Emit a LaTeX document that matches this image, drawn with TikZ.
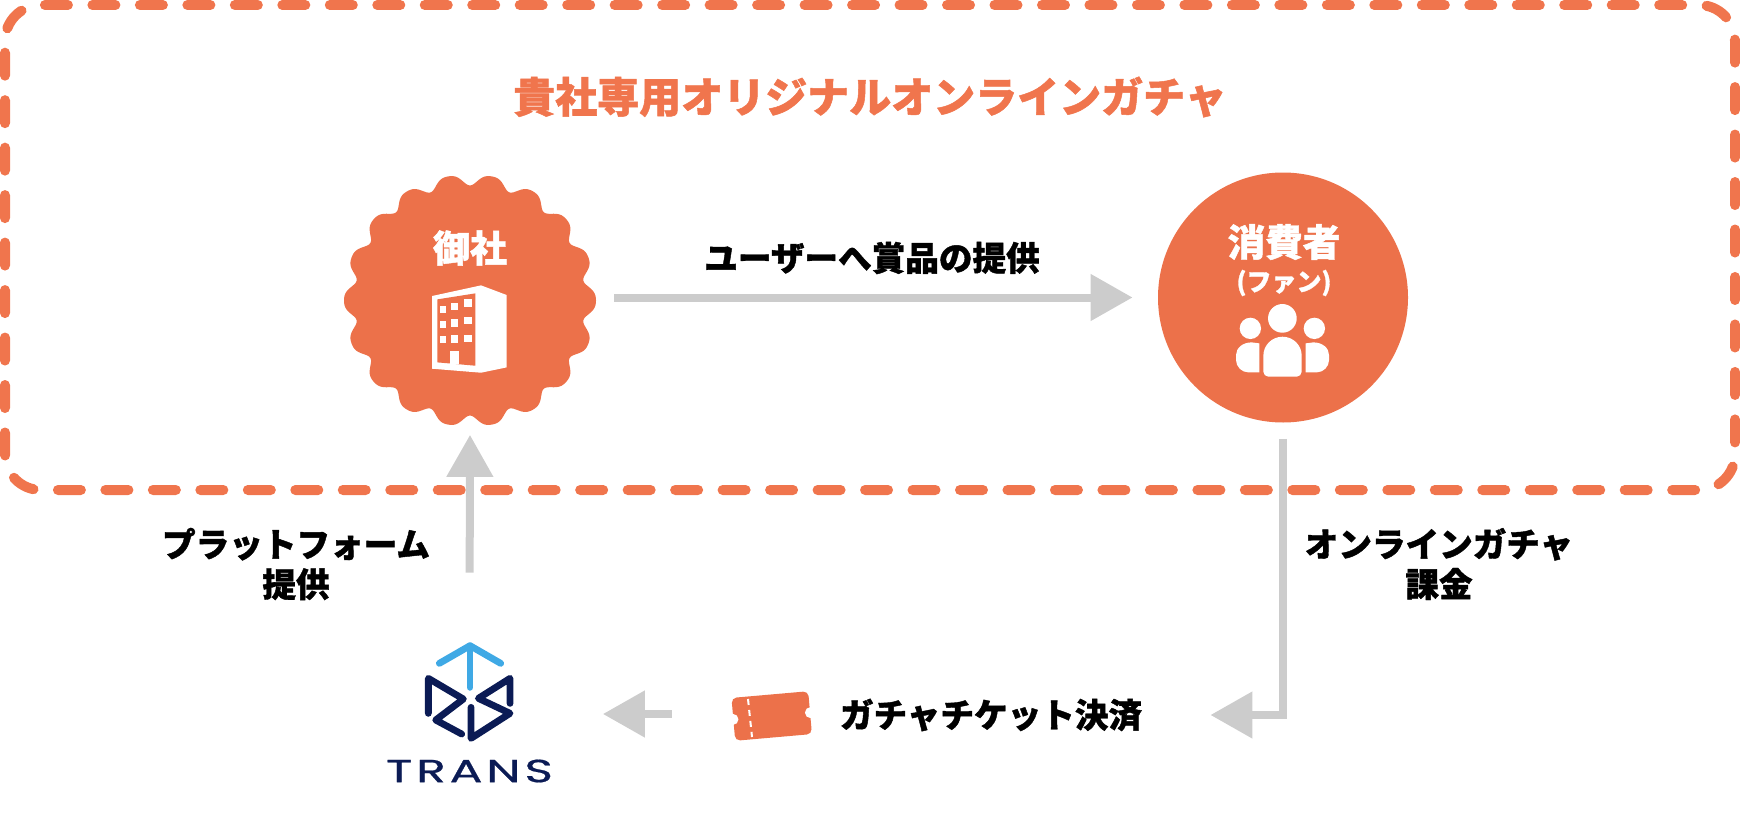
\documentclass[tikz,border=0pt]{standalone}
\usepackage{fontspec}
\usepackage{tikz}
\usetikzlibrary{arrows.meta}
\newfontfamily\cjk{Noto Sans CJK JP}[FakeBold=1.2]
\newfontfamily\transfont{Poppins}[LetterSpace=8,FakeBold=.6]
\definecolor{brand}{HTML}{F0754D}
\definecolor{badge}{HTML}{EC714A}
\definecolor{pale}{HTML}{CCCCCC}
\definecolor{navy}{HTML}{0B1B55}
\definecolor{sky}{HTML}{3FA9E5}
\tikzset{
    garrow/.style={draw=pale,line width=4pt,-{Triangle[length=21pt,width=22.5pt,fill=pale]}},
    lbl/.style={inner sep=0pt,align=center,font=\cjk\bfseries\fontsize{16.8}{20}\selectfont},
    inlbl/.style={inner sep=0pt,align=center,text=white},
    declare function={wav(\t)=121.5+5.5*cos(18*\t)-cos(36*\t);}
}
\begin{document}
\begin{tikzpicture}[x=.5pt,y=-.5pt]%
        \useasboundingbox (0,0) rectangle (1740,840); %%
        % dashed frame
        \draw[brand,line width=5pt,line cap=round,dash pattern=on 11.5pt off 12.239pt,dash phase=17.24pt] (5,41) .. controls (5,21.1) and (21.1,5) .. (41,5) -- (1699,5) .. controls (1718.9,5) and (1735,21.1) .. (1735,41) -- (1735,454) .. controls (1735,473.9) and (1718.9,490) .. (1699,490) -- (41,490) .. controls (21.1,490) and (5,473.9) .. (5,454) -- cycle; %%
        \node[inner sep=0pt,text=brand,font=\cjk\bfseries\fontsize{21}{25}\selectfont] (ttl) at (870,97) {貴社専用オリジナルオンラインガチャ}; %%
        % wavy badge and plain disc
        \fill[badge,smooth,samples=361,domain=0:360,variable=\t] plot ({470+wav(\t)*cos(\t)},{300.5+wav(\t)*sin(\t)}) -- cycle; %%
        \node[circle,inner sep=0pt,minimum size=126pt] (co) at (470,300.5) {}; %%
        \node[circle,inner sep=0pt,fill=badge,minimum size=125pt] (fan) at (1283,297.5) {}; %%
        \node[inlbl,font=\cjk\bfseries\fontsize{18.5}{20}\selectfont] (cotxt) at (470,248) {御社}; %%
        \node[inlbl,font=\cjk\bfseries\fontsize{18.8}{20}\selectfont] (fantxt) at (1284,242) {消費者}; %%
        \node[inlbl,font=\cjk\bfseries\fontsize{12.5}{14}\selectfont] (fansub) at (1284,283) {(ファン)}; %%
        % building icon
        \begin{scope}[shift={(320,160)},x=.1667pt,y=-.1667pt]
            \fill[white] (336,408)--(483,376)--(560,405)--(560,622)--(483,638)--(336,626)--cycle; %%
            \fill[badge] (352,418)--(466,400)--(466,617)--(352,607)--cycle; %%
            \foreach \cx/\w in {361/16,394/20,433/23}{%
                \foreach \ry/\sl in {0/.28,45/.17,90/.05}{%
                    \fill[white] (\cx,{\ry+437-(\cx-361)*\sl}) rectangle ++(\w,23); %%
                }%
            }%
            \fill[white] (390,572) rectangle (418,612); %%
        \end{scope}
        % people icon
        \begin{scope}[shift={(1140,160)},x=.1667pt,y=-.1667pt]
            \fill[white] (427,475) circle[radius=43]; %%
            \fill[white] (331,505) circle[radius=32]; %%
            \fill[white] (523,505) circle[radius=32]; %%
            \fill[white] (370,587) .. controls (370,555) and (396,530) .. (427.5,530) .. controls (459,530) and (485,555) .. (485,587) -- (485,635) .. controls (485,643) and (478,650) .. (470,650) -- (385,650) .. controls (377,650) and (370,643) .. (370,635) -- cycle; %%
            \fill[white] (358,550) -- (358,637) -- (325,637) .. controls (305,637) and (288,620) .. (288,600) -- (288,585) .. controls (288,564) and (308,547) .. (335,547) -- cycle; %%
            \fill[white] (497,550) -- (497,637) -- (530,637) .. controls (550,637) and (567,620) .. (567,600) -- (567,585) .. controls (567,564) and (547,547) .. (520,547) -- cycle; %%
        \end{scope}
        % logo
        \node[inner sep=0pt,minimum width=83pt,minimum height=71pt] (tr) at (469.5,714) {}; %%
        \begin{scope}[shift={(370,630)},x=.1667pt,y=-.1667pt,line width=3.4pt,line cap=round,line join=round]
            \draw[sky] (208,100)--(300,47)--(392,100); %%
            \draw[sky] (300,47)--(300,172); %%
            \draw[navy] (175,250)--(175,145)--(280,207)--(197,270)--(275,312); %%
            \draw[navy] (420,220)--(420,145)--(325,205)--(420,250)--(303,325)--(303,232); %%
        \end{scope}
        \node[inner sep=0pt,text=navy,font=\transfont\fontsize{16}{18}\selectfont] (trtxt) at (469.5,771) {\scalebox{1.52}[1]{TRANS}}; %%
        % ticket
        \node[fill=badge,rounded corners=2.5pt,inner sep=0pt,minimum width=38.5pt,minimum height=21.5pt,rotate=5] (tk) at (771.7,716) {}; %%
        \fill[white] (tk.west) circle[radius=5.5]; %%
        \fill[white] (tk.east) circle[radius=5.5]; %%
        \draw[white,line width=1pt,dash pattern=on 3pt off 2.5pt] (748,699) -- (752,737); %%
        % labels
        \begin{scope}
            \tikzstyle{every node}=[lbl];%%
            \node (give) at (872,258) {ユーザーへ賞品の提供}; %%
            \node (plat) at (296,564) {プラットフォーム\\提供}; %%
            \node (bill) at (1439,564) {オンラインガチャ\\課金}; %%
            \node (pay) at (991,715) {ガチャチケット決済}; %%
        \end{scope}
        % connectors
        \draw[garrow,shorten <=9pt,shorten >=12.5pt] (co.east |- fan.west) -- (fan.west); %%
        \draw[garrow,shorten <=35pt,shorten >=4pt] (tr.north) -- (co.south); %%
        \draw[garrow,shorten <=8pt,shorten >=34pt] (fan.south) |- (pay.east); %%
        \draw[garrow,shorten <=30.5pt,shorten >=25pt] (tr.east -| tk.west) -- (tr.east); %%
\end{tikzpicture}
\end{document}
